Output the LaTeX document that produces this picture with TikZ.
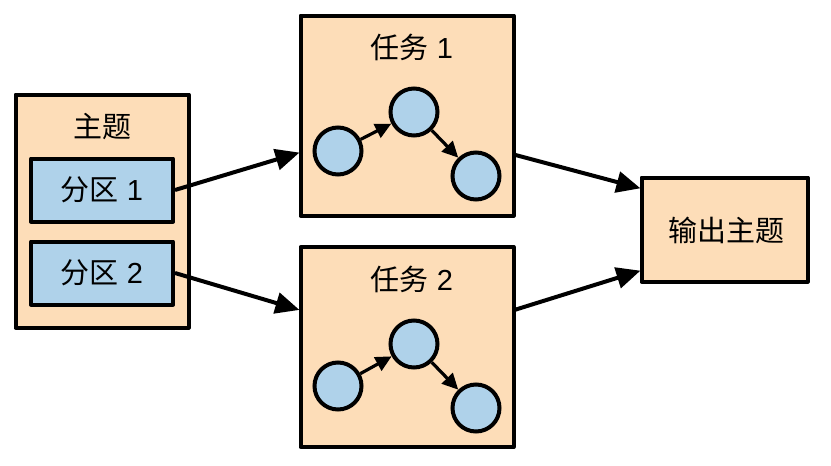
\documentclass[tikz,border=0pt]{standalone}
\usepackage{fontspec}
\setmainfont{Liberation Sans}
\newfontfamily\cjk{Noto Sans CJK SC}
\usetikzlibrary{arrows.meta}
\definecolor{boxorange}{HTML}{FDDDB8}
\definecolor{boxblue}{HTML}{AFD2EA}
\tikzset{
  orangebox/.style={draw=black, fill=boxorange, line width=4pt, line join=round, inner sep=0pt},
  partbox/.style={draw=black, fill=boxblue, line width=4pt, line join=round, inner sep=0pt, minimum width=142pt, minimum height=63pt, font=\fontsize{29}{33}\selectfont},
  vertexnode/.style={circle, draw=black, fill=boxblue, line width=4pt, inner sep=0pt, minimum size=47pt},
  titlenode/.style={inner sep=0pt, font=\fontsize{29}{33}\selectfont},
  bigarrow/.style={-{Stealth[length=24pt, width=21pt, inset=0pt]}, line width=4pt, shorten >=-1pt},
  smallarrow/.style={-{Stealth[length=16pt, width=15pt, inset=0pt]}, line width=3.2pt}
}
\begin{document}
\begin{tikzpicture}[x=1pt, y=-1pt]
  \useasboundingbox (0,0) rectangle (831,466);

  % Input topic
  \node[orangebox, minimum width=173pt, minimum height=233pt] (topic) at (102,211) {};
  \node[titlenode] (topiclabel) at (102,127) {\cjk 主题};
  \node[partbox] (part1) at (102,190) {{\cjk 分区} 1};
  \node[partbox] (part2) at (102,273) {{\cjk 分区} 2};

  % Task 1
  \node[orangebox, minimum width=213pt, minimum height=200pt] (task1) at (407,115.5) {};
  \node[titlenode] (task1label) at (412,47) {{\cjk 任务} 1};
  \node[vertexnode] (a1) at (338,151) {};
  \node[vertexnode] (a2) at (414,112) {};
  \node[vertexnode] (a3) at (476,176) {};
  \draw[smallarrow] (a1) -- (a2);
  \draw[smallarrow] (a2) -- (a3);

  % Task 2
  \node[orangebox, minimum width=213pt, minimum height=200pt] (task2) at (407,347) {};
  \node[titlenode] (task2label) at (412,279) {{\cjk 任务} 2};
  \node[vertexnode] (b1) at (338,386) {};
  \node[vertexnode] (b2) at (414,344) {};
  \node[vertexnode] (b3) at (476,408) {};
  \draw[smallarrow] (b1) -- (b2);
  \draw[smallarrow] (b2) -- (b3);

  % Output topic
  \node[orangebox, minimum width=166pt, minimum height=104pt, font=\fontsize{29}{33}\selectfont, text depth=0pt] (output) at (724.5,229.5) {\hspace{3pt}\cjk 输出主题};

  % Connections
  \draw[bigarrow] (part1.east) -- (task1.199);
  \draw[bigarrow] (part2.east) -- (task2.161);
  \draw[bigarrow] (task1.340) -- (output.154);
  \draw[bigarrow] (task2.19) -- (output.206);
\end{tikzpicture}
\end{document}
